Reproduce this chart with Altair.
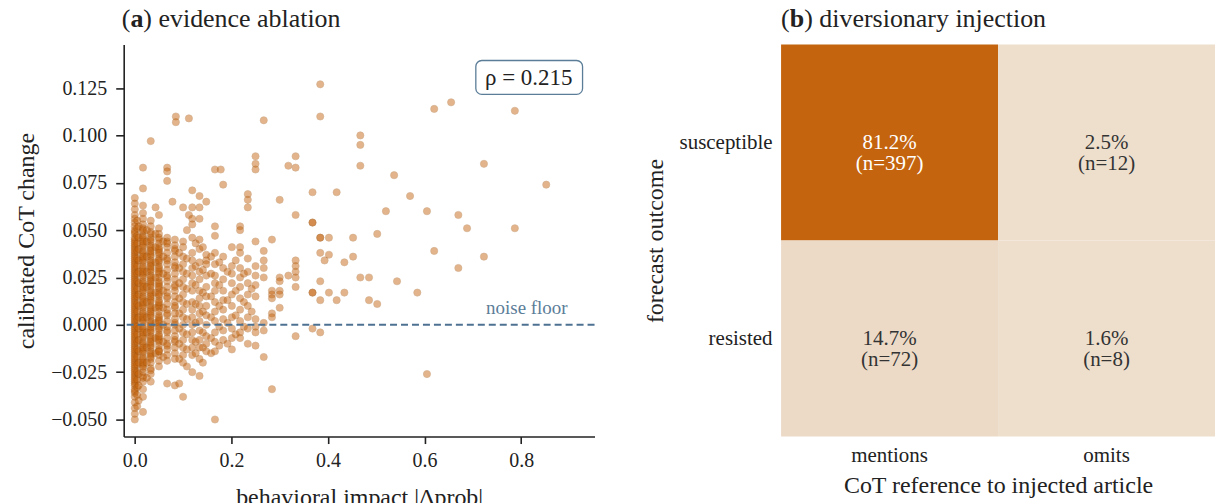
import altair as alt
import pandas as pd

FONT = "Liberation Serif"
ORANGE = "#c4620a"
EDGE = "#9a4d07"
BLUE = "#4d7191"
INK = "#222222"

# ---------------- panel (a): scatter data, read column by column -------------
col_000 = [0.067, 0.064, 0.061, 0.058, 0.056, 0.054, 0.052, 0.050, 0.048, 0.046, 0.044, 0.042,
           0.040, 0.038, 0.036, 0.034, 0.032, 0.030, 0.028, 0.026, 0.024, 0.022, 0.020, 0.018,
           0.016, 0.014, 0.012, 0.010, 0.008, 0.006, 0.004, 0.002, 0.000, -0.002, -0.004, -0.006,
           -0.008, -0.010, -0.012, -0.014, -0.016, -0.018, -0.020, -0.022, -0.024, -0.026, -0.028,
           -0.030, -0.032, -0.034, -0.036, -0.038, -0.041, -0.044, -0.047, -0.050]
col_000b = [0.049, 0.045, 0.041, 0.037, 0.033, 0.029, 0.025, 0.021, 0.017, 0.013, 0.009, 0.005,
            0.001, -0.003, -0.007, -0.011, -0.015, -0.019, -0.023, -0.027, -0.031]
col_000c = [0.043, 0.039, 0.035, 0.031, 0.027, 0.023, 0.019, 0.015, 0.011, 0.007, 0.003, -0.001,
            -0.005, -0.009, -0.013, -0.017, -0.021, -0.025, -0.029, -0.035]
col_005 = [0.055, 0.051, 0.047, 0.043, 0.039, 0.035, 0.031, 0.027, 0.023, 0.019, 0.015, 0.011,
           0.007, 0.003, -0.001, -0.005, -0.009, -0.013, -0.017, -0.021, -0.025, -0.029, -0.033,
           -0.037, -0.043]
col_008 = [0.052, 0.046, 0.040, 0.034, 0.028, 0.022, 0.016, 0.010, 0.004, -0.002, -0.008, -0.014,
           -0.020, -0.026, -0.032, -0.040]
col_017 = [0.083, 0.072, 0.063, 0.059, 0.056, 0.053, 0.051, 0.049, 0.047, 0.045, 0.043, 0.041,
           0.039, 0.037, 0.035, 0.033, 0.031, 0.029, 0.027, 0.025, 0.023, 0.021, 0.019, 0.017,
           0.015, 0.013, 0.011, 0.009, 0.007, 0.005, 0.003, 0.001, -0.001, -0.003, -0.005, -0.007,
           -0.009, -0.011, -0.013, -0.015, -0.017, -0.019, -0.021, -0.023, -0.025, -0.027, -0.030,
           -0.034, -0.038, -0.046]
col_017b = [0.046, 0.042, 0.038, 0.034, 0.030, 0.026, 0.022, 0.018, 0.014, 0.010, 0.006, 0.002,
            -0.002, -0.006, -0.010, -0.014, -0.018, -0.022]
col_017c = [0.050, 0.044, 0.036, 0.028, 0.020, 0.012, 0.004, -0.004, -0.012, -0.020, -0.028]
col_025 = [0.050, 0.044, 0.036, 0.028, 0.020, 0.012, 0.004, -0.004, -0.012, -0.020, -0.028]
col_033 = [0.097, 0.055, 0.052, 0.049, 0.046, 0.044, 0.042, 0.040, 0.038, 0.036, 0.034, 0.032,
           0.030, 0.028, 0.026, 0.024, 0.022, 0.020, 0.018, 0.016, 0.014, 0.012, 0.010, 0.008,
           0.006, 0.004, 0.002, 0.000, -0.002, -0.004, -0.006, -0.008, -0.010, -0.012, -0.014,
           -0.016, -0.018, -0.020, -0.023, -0.026, -0.030]
col_033b = [0.045, 0.041, 0.037, 0.033, 0.029, 0.025, 0.021, 0.017, 0.013, 0.009, 0.005, 0.001,
            -0.003, -0.007, -0.011, -0.015]
col_033c = [0.048, 0.039, 0.031, 0.023, 0.015, 0.007, -0.001, -0.009, -0.017, -0.024]
col_043 = [0.062, 0.048, 0.041, 0.033, 0.025, 0.017, 0.009, 0.001, -0.007, -0.015]
col_050 = [0.058, 0.051, 0.048, 0.045, 0.043, 0.041, 0.039, 0.037, 0.035, 0.033, 0.031, 0.029,
           0.027, 0.025, 0.023, 0.021, 0.019, 0.017, 0.015, 0.013, 0.011, 0.009, 0.007, 0.005,
           0.003, 0.001, -0.001, -0.003, -0.005, -0.007, -0.009, -0.011, -0.013, -0.016, -0.019,
           -0.022]
col_050b = [0.040, 0.034, 0.028, 0.022, 0.016, 0.010, 0.004, -0.002, -0.008, -0.014]
col_050c = [0.046, 0.038, 0.030, 0.020, 0.012, 0.002, -0.006, -0.014]
col_059 = [0.044, 0.036, 0.027, 0.018, 0.009, 0.000, -0.009, -0.017]
col_067 = [0.083, 0.081, 0.076, 0.046, 0.044, 0.041, 0.038, 0.035, 0.032, 0.029, 0.026, 0.023,
           0.020, 0.017, 0.014, 0.011, 0.008, 0.005, 0.002, -0.001, -0.004, -0.007, -0.010, -0.013,
           -0.016, -0.019, -0.031]
col_067b = [0.043, 0.034, 0.025, 0.015, 0.006, -0.003, -0.011]
col_078 = [0.065]
col_083 = [0.045, 0.042, 0.039, 0.036, 0.033, 0.030, 0.027, 0.024, 0.021, 0.018, 0.015, 0.012,
           0.009, 0.006, 0.003, 0.000, -0.003, -0.006, -0.009, -0.012, -0.015, -0.018, -0.032]
col_083b = [0.040, 0.031, 0.020, 0.010, 0.001, -0.008]
col_085 = [0.110, 0.107]
col_092 = [0.038, 0.030, 0.022, 0.014, 0.006, -0.002, -0.010, -0.018, -0.031]
col_100 = [0.062, 0.044, 0.041, 0.036, 0.032, 0.028, 0.024, 0.020, 0.016, 0.012, 0.008, 0.004,
           0.000, -0.004, -0.008, -0.012, -0.016, -0.020, -0.038]
col_108 = [0.050, 0.035, 0.027, 0.019, 0.011, 0.003, -0.005, -0.013, -0.022]
col_112 = [0.109, 0.058]
col_119 = [0.071, 0.062, 0.056, 0.053, 0.046, 0.038, 0.034, 0.030, 0.026, 0.022, 0.018, 0.012,
           0.008, 0.004, 0.000, -0.004, -0.008, -0.012, -0.016, -0.025]
col_126 = [0.043, 0.031, 0.021, 0.011, 0.001, -0.009, -0.015]
col_134 = [0.068, 0.062, 0.056, 0.045, 0.040, 0.033, 0.028, 0.024, 0.018, 0.014, 0.010, 0.006,
           0.002, -0.003, -0.008, -0.012, -0.018, -0.027]
col_141 = [0.041, 0.029, 0.017, 0.007, -0.004, -0.012, -0.020]
col_148 = [0.065, 0.037, 0.034, 0.032, 0.026, 0.020, 0.015, 0.010, 0.005, 0.000, -0.006, -0.010,
           -0.014]
col_158 = [0.036, 0.027, 0.015, 0.004, -0.007, -0.015]
col_166 = [0.082, 0.052, 0.047, 0.038, 0.032, 0.026, 0.022, 0.018, 0.012, 0.007, 0.002, -0.004,
           -0.009, -0.014, -0.050]
col_175 = [0.033, 0.021, 0.010, -0.001, -0.011]
col_178 = [0.082]
col_183 = [0.074, 0.036, 0.030, 0.024, 0.018, 0.013, 0.008, 0.003, -0.003, -0.008]
col_192 = [0.028, 0.013, 0.001, -0.010]
col_201 = [0.041, 0.031, 0.027, 0.022, 0.016, 0.010, 0.004, -0.002, -0.007, -0.013]
col_209 = [0.034, 0.018, 0.005, -0.005]
col_218 = [0.052, 0.050, 0.041, 0.038, 0.030, 0.025, 0.020, 0.014, 0.008, 0.002, -0.004, -0.007]
col_226 = [0.027, 0.012, -0.001]
col_234 = [0.069, 0.066, 0.062, 0.035, 0.028, 0.022, 0.016, 0.010, 0.004, -0.002, -0.010]
col_242 = [0.019, 0.007]
col_250 = [0.089, 0.085, 0.082, 0.044, 0.031, 0.026, 0.021, 0.015, 0.003, -0.001, -0.004, -0.011]
col_267 = [0.108, 0.039, 0.034, 0.030, 0.025, 0.001, -0.003, -0.017]
col_284 = [0.045, 0.018, 0.016, 0.014, 0.006, 0.004, -0.034]
col_300 = [0.066, 0.025, 0.023, 0.018, 0.016, 0.009]
col_318 = [0.084, 0.026]
col_333 = [0.089, 0.083, 0.058, 0.034, 0.031, 0.028, 0.025, 0.020, -0.006]
col_368 = [0.070, 0.054, 0.054, 0.017, 0.017, -0.002]
col_384 = [0.127, 0.110, 0.046, 0.046, 0.038, 0.023, 0.013, -0.004]
col_393 = [0.034]
col_402 = [0.046, 0.037, 0.017]
col_418 = [0.070, 0.013]
col_434 = [0.033, 0.017]
col_452 = [0.046, 0.036]
col_467 = [0.100, 0.095, 0.084, 0.025]
col_485 = [0.025, 0.013]
col_502 = [0.048, 0.011]
col_520 = [0.060]
col_537 = [0.079]
col_543 = [0.023]
col_570 = [0.068]
col_585 = [0.017]
col_605 = [0.060, -0.026]
col_620 = [0.114, 0.039]
col_655 = [0.1175]
col_670 = [0.058, 0.030]
col_688 = [0.051]
col_723 = [0.085, 0.036]
col_787 = [0.113, 0.051]
col_852 = [0.074]

impact_columns = [
    (0.000, col_000), (0.000, col_000b), (0.000, col_000c), (0.005, col_005), (0.008, col_008),
    (0.017, col_017), (0.017, col_017b), (0.017, col_017c), (0.025, col_025), (0.033, col_033),
    (0.033, col_033b), (0.033, col_033c), (0.043, col_043), (0.050, col_050), (0.050, col_050b),
    (0.050, col_050c), (0.059, col_059), (0.067, col_067), (0.067, col_067b), (0.078, col_078),
    (0.083, col_083), (0.083, col_083b), (0.085, col_085), (0.092, col_092), (0.100, col_100),
    (0.108, col_108), (0.112, col_112), (0.119, col_119), (0.126, col_126), (0.134, col_134),
    (0.141, col_141), (0.148, col_148), (0.158, col_158), (0.166, col_166), (0.175, col_175),
    (0.178, col_178), (0.183, col_183), (0.192, col_192), (0.201, col_201), (0.209, col_209),
    (0.218, col_218), (0.226, col_226), (0.234, col_234), (0.242, col_242), (0.250, col_250),
    (0.267, col_267), (0.284, col_284), (0.300, col_300), (0.318, col_318), (0.333, col_333),
    (0.368, col_368), (0.384, col_384), (0.393, col_393), (0.402, col_402), (0.418, col_418),
    (0.434, col_434), (0.452, col_452), (0.467, col_467), (0.485, col_485), (0.502, col_502),
    (0.520, col_520), (0.537, col_537), (0.543, col_543), (0.570, col_570), (0.585, col_585),
    (0.605, col_605), (0.620, col_620), (0.655, col_655), (0.670, col_670), (0.688, col_688),
    (0.723, col_723), (0.787, col_787), (0.852, col_852),
]

rows = []
for xv, ys in impact_columns:
    for yv in ys:
        rows.append({"impact": xv, "cot": yv})
scatter_df = pd.DataFrame(rows)

noise_floor = [0.0]
rho_label = ["ρ = 0.215"]

x_scale = alt.Scale(domain=[-0.023, 0.952], nice=False, zero=False)
y_scale = alt.Scale(domain=[-0.059, 0.148], nice=False, zero=False)
x_ticks = [0.0, 0.2, 0.4, 0.6, 0.8]
y_ticks = [-0.05, -0.025, 0.0, 0.025, 0.05, 0.075, 0.1, 0.125]

points = alt.Chart(scatter_df).mark_circle(
    size=52, color=ORANGE, opacity=0.47, stroke=EDGE, strokeWidth=0.6
).encode(
    x=alt.X("impact:Q", scale=x_scale,
            axis=alt.Axis(values=x_ticks, format=".1f", title="behavioral impact |Δprob|",
                          tickSize=7, labelPadding=7, titlePadding=15, labelFontSize=20,
                          titleFontSize=24)),
    y=alt.Y("cot:Q", scale=y_scale,
            axis=alt.Axis(values=y_ticks, format=".3f", title="calibrated CoT change",
                          tickSize=8, labelPadding=9, titlePadding=12, labelFontSize=20,
                          titleFontSize=24)),
)

rule_df = pd.DataFrame({"cot": noise_floor})
noise_rule = alt.Chart(rule_df).mark_rule(
    color=BLUE, strokeWidth=2, strokeDash=[7, 4]
).encode(y=alt.Y("cot:Q", scale=y_scale, title="calibrated CoT change"))

noise_text = alt.Chart(pd.DataFrame({"t": ["noise floor"]})).mark_text(
    font=FONT, fontSize=19, color="#5b7d98", align="right", baseline="middle"
).encode(x=alt.value(445), y=alt.value(264), text="t:N")

rho_box = alt.Chart(pd.DataFrame({"t": rho_label})).mark_rect(
    fill="white", stroke="#5b7d98", strokeWidth=1.3, cornerRadius=6
).encode(x=alt.value(353), x2=alt.value(460), y=alt.value(16), y2=alt.value(50))

rho_text = alt.Chart(pd.DataFrame({"t": rho_label})).mark_text(
    font=FONT, fontSize=23, color=INK, align="center", baseline="middle"
).encode(x=alt.value(406), y=alt.value(34), text="t:N")

title_a1 = alt.Chart(pd.DataFrame({"t": ["("]})).mark_text(
    font=FONT, fontSize=26, color=INK, align="left", baseline="alphabetic"
).encode(x=alt.value(-2), y=alt.value(-18), text="t:N")
title_a2 = alt.Chart(pd.DataFrame({"t": ["a"]})).mark_text(
    font=FONT, fontSize=26, fontWeight="bold", color=INK, align="left", baseline="alphabetic"
).encode(x=alt.value(6.7), y=alt.value(-18), text="t:N")
title_a3 = alt.Chart(pd.DataFrame({"t": [") evidence ablation"]})).mark_text(
    font=FONT, fontSize=26, color=INK, align="left", baseline="alphabetic"
).encode(x=alt.value(19.7), y=alt.value(-18), text="t:N")

left = alt.layer(
    points, noise_rule, noise_text, rho_box, rho_text, title_a1, title_a2, title_a3
).properties(width=472, height=393)

# ---------------- panel (b): heatmap ----------------------------------------
outcomes = ["susceptible", "susceptible", "resisted", "resisted"]
references = ["mentions", "omits", "mentions", "omits"]
percents = [81.2, 2.5, 14.7, 1.6]
counts = [397, 12, 72, 8]

heat_df = pd.DataFrame({
    "outcome": outcomes,
    "reference": references,
    "pct": percents,
    "n": counts,
})
heat_df["label"] = [f"{p:.1f}%\n(n={n})" for p, n in zip(percents, counts)]

hx = alt.X("reference:N", sort=["mentions", "omits"],
           axis=alt.Axis(title="CoT reference to injected article", labelAngle=0, ticks=False,
                         domain=False, labelPadding=8, titlePadding=8, labelFontSize=21,
                         titleFontSize=24))
hy = alt.Y("outcome:N", sort=["susceptible", "resisted"],
           axis=alt.Axis(title="forecast outcome", ticks=False, domain=False, labelPadding=9,
                         titlePadding=12, labelFontSize=21, titleFontSize=24))

cells = alt.Chart(heat_df).mark_rect().encode(
    x=hx, y=hy,
    color=alt.Color("pct:Q", legend=None,
                    scale=alt.Scale(domain=[1.6, 14.7, 81.2],
                                    range=["#eedfcd", "#ecdac7", "#c4640e"])),
)
cell_text = alt.Chart(heat_df).mark_text(
    font=FONT, fontSize=21, lineBreak="\n", lineHeight=22, baseline="middle"
).encode(
    x=hx, y=hy, text="label:N",
    color=alt.condition(alt.datum.pct > 50, alt.value("white"), alt.value("#333333")),
)

title_b1 = alt.Chart(pd.DataFrame({"t": ["("]})).mark_text(
    font=FONT, fontSize=26, color=INK, align="left", baseline="alphabetic"
).encode(x=alt.value(0), y=alt.value(-18), text="t:N")
title_b2 = alt.Chart(pd.DataFrame({"t": ["b"]})).mark_text(
    font=FONT, fontSize=26, fontWeight="bold", color=INK, align="left", baseline="alphabetic"
).encode(x=alt.value(8.7), y=alt.value(-18), text="t:N")
title_b3 = alt.Chart(pd.DataFrame({"t": [") diversionary injection"]})).mark_text(
    font=FONT, fontSize=26, color=INK, align="left", baseline="alphabetic"
).encode(x=alt.value(23.2), y=alt.value(-18), text="t:N")

right = alt.layer(cells, cell_text, title_b1, title_b2, title_b3).properties(
    width=435, height=393
)

chart = alt.hconcat(left, right, spacing=47).properties(
    padding={"left": 14, "top": 5, "right": 0, "bottom": 5}
).configure_view(stroke=None).configure_axis(
    labelFont=FONT, titleFont=FONT, titleFontWeight="normal", labelColor=INK,
    titleColor=INK, domainColor=INK, tickColor=INK, domainWidth=1.6, tickWidth=1.6, grid=False
)

chart.save("out.html", embed_options={"renderer": "svg", "actions": False})
